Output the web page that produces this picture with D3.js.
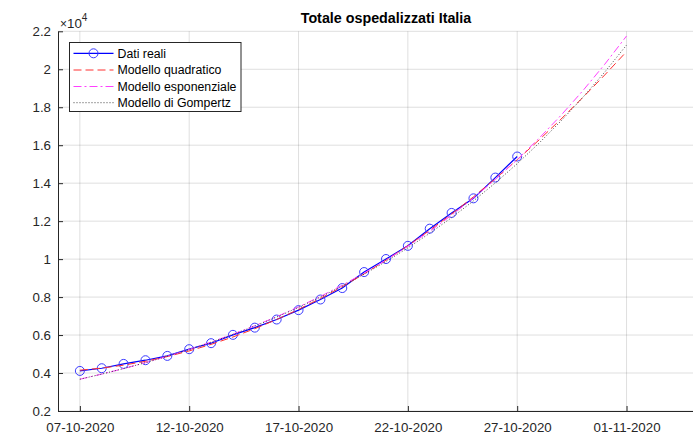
<!DOCTYPE html>
<html><head><meta charset="utf-8">
<script src="https://cdn.jsdelivr.net/npm/d3@7"></script>
<style>body{margin:0;background:#fff}svg{display:block;font-family:"Liberation Sans",Arial,Helvetica,sans-serif}</style>
</head><body><svg id="c" width="693" height="436"></svg>
<script>
// ---- data ----
const startDate = "2020-10-07";
const realValues = [4111,4253,4480,4675,4902,5256,5572,6011,6390,6818,7314,7873,8475,9319,10005,10700,11604,12433,13202,14295,15404];
const quadValues = [4150,4259,4415,4618,4868,5165,5508,5898,6335,6819,7350,7928,8552,9223,9941,10706,11517,12376,13281,14233,15232,16278,17370,18510,19696,20929];
const expValues = [3673,3944,4235,4547,4882,5242,5629,6044,6490,6968,7482,8034,8626,9262,9945,10679,11466,12311,13219,14194,15241,16365,17571,18867,20258,21752];
const gompValues = [3673,3944,4234,4545,4879,5238,5622,6034,6475,6948,7456,8000,8582,9207,9876,10594,11363,12186,13069,14014,15026,16111,17272,18516,19847,21273];
const xTickLabels = ["07-10-2020","12-10-2020","17-10-2020","22-10-2020","27-10-2020","01-11-2020"];
const yTicks = [0.2,0.4,0.6,0.8,1,1.2,1.4,1.6,1.8,2,2.2];
const seriesNames = ["Dati reali","Modello quadratico","Modello esponenziale","Modello di Gompertz"];
const title = "Totale ospedalizzati Italia";

// ---- layout ----
const L = 58, R = 714, T = 31.3, B = 411;
const svg = d3.select("#c");
const parse = d3.utcParse("%d-%m-%Y");
const day0 = d3.utcParse("%Y-%m-%d")(startDate);
const dateAt = i => d3.utcDay.offset(day0, i);
const x = d3.scaleUtc().domain([d3.utcDay.offset(day0,-1), d3.utcDay.offset(day0,29)]).range([L, R]);
const y = d3.scaleLinear().domain([2000, 22000]).range([B, T]);
const axisCol = "#262626";

svg.append("clipPath").attr("id","pc").append("rect").attr("x",L).attr("y",T).attr("width",R-L).attr("height",B-T);

// grid
const tickDates = xTickLabels.map(parse);
const g = svg.append("g");
g.selectAll(".vg").data(tickDates).join("line").attr("x1",d=>x(d)).attr("x2",d=>x(d)).attr("y1",T).attr("y2",B)
  .attr("stroke","#262626").attr("stroke-opacity",0.15).attr("stroke-width",1);
g.selectAll(".hg").data(yTicks).join("line").attr("x1",L).attr("x2",R).attr("y1",d=>y(d*1e4)).attr("y2",d=>y(d*1e4))
  .attr("stroke","#262626").attr("stroke-opacity",0.15).attr("stroke-width",1);

// axes
const xAxis = d3.axisBottom(x).tickValues(tickDates).tickSizeInner(-5).tickSizeOuter(0).tickPadding(12)
  .tickFormat((d,i)=>xTickLabels[i]);
const xg = svg.append("g").attr("transform",`translate(0,${B})`).call(xAxis);
const yAxis = d3.axisLeft(y).tickValues(yTicks.map(v=>v*1e4)).tickSizeInner(-5).tickSizeOuter(0).tickPadding(7)
  .tickFormat(d=>String(+(d/1e4).toFixed(1)));
const yg = svg.append("g").attr("transform",`translate(${L},0)`).call(yAxis);
[xg,yg].forEach(a=>{
  a.select(".domain").attr("stroke",axisCol).attr("stroke-width",1);
  a.selectAll(".tick line").attr("stroke",axisCol);
  a.selectAll(".tick text").attr("fill",axisCol).attr("font-size",13.3).attr("font-family","Liberation Sans, Arial, sans-serif");
});
yg.selectAll(".tick text").attr("dy","0.35em");

// exponent label
const ex = svg.append("text").attr("x",60).attr("y",28).attr("fill",axisCol).attr("font-size",13.3);
ex.append("tspan").attr("font-size",12).text("\u00d7");
ex.append("tspan").text("10");
ex.append("tspan").attr("dy",-7).attr("font-size",10).text("4");

// title
svg.append("text").attr("x",386).attr("y",23).attr("text-anchor","middle").attr("font-weight","bold")
  .attr("font-size",14.3).attr("fill","#000").text(title);

// series
const plot = svg.append("g").attr("clip-path","url(#pc)");
const line = d3.line().x((d,i)=>x(dateAt(i))).y(d=>y(d));
const styles = [
  {stroke:"#0000ff", width:1.2, dash:null},
  {stroke:"#ff3030", width:1, dash:"8,4"},
  {stroke:"#ff40ff", width:1, dash:"8,3,2,3"},
  {stroke:"#444444", width:1, dash:"1,2"}
];
const allSeries = [realValues, quadValues, expValues, gompValues];
allSeries.forEach((s,k)=>{
  plot.append("path").datum(s).attr("d",line).attr("fill","none")
    .attr("stroke",styles[k].stroke).attr("stroke-width",styles[k].width)
    .attr("stroke-dasharray",styles[k].dash);
  if(k===0){
    plot.selectAll(".m").data(s).join("circle").attr("cx",(d,i)=>x(dateAt(i))).attr("cy",d=>y(d))
      .attr("r",4.5).attr("fill","none").attr("stroke","#3a3aff").attr("stroke-width",1);
  }
});

// legend
const lg = svg.append("g");
lg.append("rect").attr("x",69.5).attr("y",42.5).attr("width",171.5).attr("height",69).attr("fill","#fff")
  .attr("stroke",axisCol).attr("stroke-width",1);
const rowsY = [53.3,70,86.5,102.7];
seriesNames.forEach((n,k)=>{
  lg.append("line").attr("x1",73.5).attr("x2",113.5).attr("y1",rowsY[k]).attr("y2",rowsY[k])
    .attr("stroke",styles[k].stroke).attr("stroke-width",styles[k].width).attr("stroke-dasharray",styles[k].dash);
  if(k===0) lg.append("circle").attr("cx",93.5).attr("cy",rowsY[k]).attr("r",4.5).attr("fill","none").attr("stroke","#3a3aff");
  lg.append("text").attr("x",117.5).attr("y",rowsY[k]).attr("dy","0.35em").attr("font-size",12.3).attr("fill","#000").text(n);
});
</script></body></html>
